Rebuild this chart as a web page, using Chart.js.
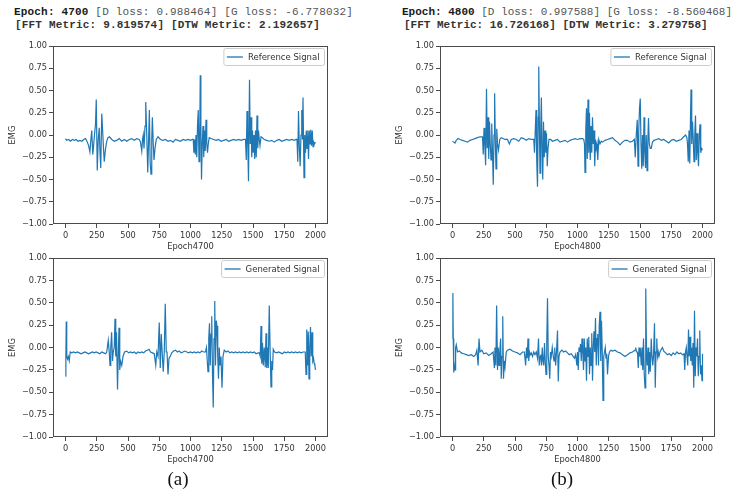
<!DOCTYPE html>
<html>
<head>
<meta charset="utf-8">
<script src="https://cdn.jsdelivr.net/npm/chart.js@4.4.1/dist/chart.umd.min.js"></script>
<style>
  html, body { margin: 0; padding: 0; background: #fff; }
  #wrap { position: relative; width: 735px; height: 496px; overflow: hidden; background: #fff; }
  canvas { position: absolute; }
  .hdr { position: absolute; font-family: "Liberation Mono", "DejaVu Sans Mono", monospace; font-size: 11px; line-height: 12.5px; color: #555; white-space: pre; }
  .hdr b { color: #1a1a1a; }
  .hdr .l2 { font-weight: bold; color: #333; }
  .hdr.wide { letter-spacing: 0.18px; }
  .cap { position: absolute; font-family: "Liberation Serif", serif; font-size: 19px; color: #111; transform: translate(-50%, -50%); white-space: nowrap; }
</style>
</head>
<body>
<div id="wrap">
  <div class="hdr wide" style="left:14px; top:6px;"><b>Epoch: 4700</b> [D loss: 0.988464] [G loss: -6.778032]</div>
  <div class="hdr wide" style="left:15px; top:18.5px;"><span class="l2">[FFT Metric: 9.819574] [DTW Metric: 2.192657]</span></div>
  <div class="hdr" style="left:402px; top:6px;"><b>Epoch: 4800</b> [D loss: 0.997588] [G loss: -8.560468]</div>
  <div class="hdr" style="left:404px; top:18.5px;"><span class="l2">[FFT Metric: 16.726168] [DTW Metric: 3.279758]</span></div>

  <canvas id="c1" width="340" height="218" style="left:0px; top:38px; width:340px; height:218px;"></canvas>
  <canvas id="c2" width="340" height="218" style="left:387px; top:38px; width:340px; height:218px;"></canvas>
  <canvas id="c3" width="340" height="219" style="left:0px; top:250px; width:340px; height:219px;"></canvas>
  <canvas id="c4" width="340" height="219" style="left:387px; top:250px; width:340px; height:219px;"></canvas>

  <div class="cap" style="left:178px; top:479px;">(a)</div>
  <div class="cap" style="left:562px; top:479px;">(b)</div>
</div>
<script>
// ---------------- data ----------------
const xTickValues = [0, 250, 500, 750, 1000, 1250, 1500, 1750, 2000];
const xTickLabels = ['0', '250', '500', '750', '1000', '1250', '1500', '1750', '2000'];
const yTickValues = [1, 0.75, 0.5, 0.25, 0, -0.25, -0.5, -0.75, -1];
const yTickLabels = ['1.00', '0.75', '0.50', '0.25', '0.00', '\u22120.25', '\u22120.50', '\u22120.75', '\u22121.00'];
const seriesLabels = ['Reference Signal', 'Generated Signal'];
const axisTitles = ['Epoch4700', 'Epoch4800', 'EMG'];

// [sample, EMG]
const refSignal4700 = [[0,-0.04],[10,-0.06],[25,-0.05],[40,-0.07],[55,-0.05],[70,-0.06],[85,-0.05],[100,-0.07],[115,-0.06],[130,-0.07],[145,-0.05],[160,-0.04],[175,-0.08],[185,-0.12],[195,-0.19],[203,-0.05],[210,0.05],[218,-0.22],[226,-0.1],[232,0.0],[240,0.12],[246,0.40],[254,-0.40],[262,-0.05],[270,0.08],[276,-0.2],[282,-0.37],[290,0.24],[297,0.05],[304,-0.15],[310,-0.30],[318,-0.18],[328,-0.08],[340,-0.03],[352,-0.02],[370,-0.05],[390,-0.07],[410,-0.06],[430,-0.04],[450,-0.07],[470,-0.05],[490,-0.07],[510,-0.05],[530,-0.04],[550,-0.06],[570,-0.04],[590,-0.05],[600,-0.08],[610,-0.18],[616,-0.05],[622,0.0],[628,-0.15],[636,0.1],[642,0.37],[650,0.0],[658,-0.42],[664,-0.1],[671,0.28],[677,-0.3],[684,-0.44],[690,-0.05],[695,0.2],[702,-0.1],[708,-0.28],[716,-0.15],[726,-0.05],[740,-0.02],[760,-0.05],[780,-0.06],[800,-0.05],[820,-0.07],[840,-0.06],[860,-0.08],[880,-0.05],[900,-0.06],[920,-0.07],[940,-0.05],[960,-0.06],[980,-0.05],[1000,-0.06],[1015,-0.05],[1022,-0.05],[1027,-0.2],[1033,-0.05],[1038,-0.22],[1044,0.0],[1050,-0.25],[1056,0.1],[1062,0.28],[1068,-0.3],[1074,0.0],[1078,0.67],[1083,0.1],[1088,-0.5],[1094,-0.1],[1100,0.1],[1106,-0.25],[1112,0.05],[1118,-0.18],[1124,0.17],[1130,-0.1],[1136,-0.2],[1142,-0.1],[1150,-0.03],[1165,-0.04],[1185,-0.05],[1205,-0.06],[1225,-0.05],[1245,-0.07],[1265,-0.06],[1285,-0.05],[1305,-0.07],[1325,-0.06],[1345,-0.05],[1365,-0.06],[1385,-0.05],[1405,-0.06],[1425,-0.05],[1440,-0.05],[1446,-0.28],[1452,0.27],[1458,-0.1],[1464,-0.52],[1472,0.62],[1478,-0.1],[1484,0.2],[1490,-0.25],[1496,0.05],[1502,-0.2],[1508,0.0],[1514,-0.27],[1520,0.05],[1526,-0.25],[1532,0.22],[1538,-0.15],[1544,0.05],[1550,-0.05],[1556,-0.12],[1564,-0.02],[1575,-0.03],[1590,-0.05],[1610,-0.06],[1630,-0.07],[1650,-0.06],[1670,-0.08],[1690,-0.06],[1710,-0.05],[1730,-0.07],[1750,-0.06],[1770,-0.05],[1790,-0.06],[1810,-0.05],[1830,-0.06],[1845,-0.05],[1852,-0.05],[1858,-0.3],[1864,0.27],[1870,-0.1],[1877,-0.35],[1884,0.0],[1890,0.28],[1896,-0.05],[1900,0.42],[1908,-0.48],[1914,0.0],[1920,-0.2],[1926,0.05],[1932,-0.15],[1938,0.05],[1944,-0.27],[1950,0.05],[1956,-0.1],[1962,0.06],[1968,-0.12],[1974,0.05],[1980,-0.13],[1986,-0.08],[1992,-0.1],[1999,-0.08]];

const genSignal4700 = [[0,-0.32],[3,-0.1],[6,0.29],[10,-0.1],[16,-0.13],[22,-0.1],[30,-0.15],[38,-0.05],[50,-0.06],[65,-0.05],[80,-0.06],[95,-0.05],[110,-0.06],[125,-0.07],[140,-0.06],[155,-0.05],[170,-0.06],[185,-0.07],[200,-0.06],[215,-0.05],[230,-0.06],[245,-0.05],[260,-0.06],[275,-0.07],[290,-0.05],[305,-0.06],[320,-0.07],[330,-0.05],[342,0.08],[350,-0.05],[356,-0.2],[362,0.0],[369,0.17],[376,-0.15],[382,-0.05],[390,0.0],[396,0.32],[402,-0.1],[408,0.17],[416,-0.47],[422,-0.1],[428,0.22],[434,-0.25],[440,-0.15],[450,-0.2],[460,-0.1],[472,-0.05],[490,-0.04],[505,-0.06],[520,-0.05],[535,-0.06],[550,-0.05],[565,-0.07],[580,-0.05],[595,-0.06],[610,-0.05],[625,-0.06],[640,-0.04],[655,-0.03],[668,-0.02],[680,-0.05],[695,-0.06],[710,-0.07],[722,-0.2],[730,-0.05],[740,-0.1],[750,0.28],[758,-0.23],[766,0.15],[775,-0.1],[782,-0.27],[790,-0.05],[798,0.49],[806,-0.05],[812,-0.05],[820,-0.3],[828,-0.12],[838,-0.1],[850,-0.06],[865,-0.04],[880,-0.03],[895,-0.05],[910,-0.04],[925,-0.06],[940,-0.05],[955,-0.04],[970,-0.05],[985,-0.06],[1000,-0.05],[1015,-0.06],[1030,-0.05],[1045,-0.06],[1060,-0.05],[1075,-0.06],[1090,-0.04],[1105,-0.05],[1120,-0.05],[1128,0.0],[1134,-0.15],[1140,-0.27],[1146,0.1],[1152,0.27],[1158,-0.2],[1164,0.15],[1170,0.35],[1176,-0.3],[1182,-0.67],[1188,0.1],[1194,0.52],[1200,-0.2],[1206,0.3],[1212,0.24],[1218,-0.1],[1224,-0.35],[1230,0.0],[1236,-0.2],[1244,-0.1],[1252,-0.45],[1260,-0.1],[1270,-0.03],[1285,-0.05],[1300,-0.04],[1315,-0.06],[1330,-0.05],[1345,-0.06],[1360,-0.05],[1375,-0.06],[1390,-0.05],[1405,-0.06],[1420,-0.05],[1435,-0.06],[1450,-0.05],[1465,-0.06],[1480,-0.05],[1495,-0.06],[1510,-0.05],[1525,-0.07],[1540,-0.06],[1550,-0.06],[1558,-0.1],[1564,0.24],[1570,-0.18],[1576,0.05],[1582,-0.2],[1590,0.0],[1598,-0.22],[1604,0.16],[1610,-0.23],[1616,0.0],[1622,-0.23],[1630,0.47],[1638,-0.1],[1644,-0.44],[1650,-0.15],[1656,-0.25],[1662,-0.02],[1672,-0.05],[1690,-0.06],[1705,-0.05],[1720,-0.06],[1735,-0.07],[1750,-0.05],[1765,-0.06],[1780,-0.05],[1795,-0.06],[1810,-0.05],[1825,-0.06],[1840,-0.05],[1855,-0.06],[1870,-0.05],[1885,-0.06],[1900,-0.05],[1910,-0.05],[1918,-0.05],[1924,-0.3],[1930,0.2],[1936,-0.2],[1942,0.18],[1948,-0.35],[1954,0.0],[1960,0.23],[1966,-0.1],[1972,0.17],[1978,-0.15],[1984,-0.12],[1990,-0.18],[1995,-0.2],[2000,-0.25]];

const refSignal4800 = [[0,-0.07],[10,-0.08],[20,-0.09],[30,-0.06],[45,-0.04],[60,-0.05],[80,-0.06],[100,-0.07],[120,-0.08],[140,-0.06],[160,-0.05],[180,-0.04],[200,-0.03],[220,-0.02],[240,-0.02],[246,-0.22],[252,0.08],[258,-0.1],[265,-0.34],[272,0.52],[278,-0.15],[284,0.2],[290,-0.27],[296,0.15],[302,-0.1],[308,-0.28],[314,0.13],[320,-0.2],[326,-0.56],[332,0.0],[337,0.47],[343,-0.1],[348,-0.38],[354,0.07],[360,-0.1],[368,-0.17],[378,-0.05],[390,-0.03],[405,-0.04],[420,-0.05],[440,-0.05],[455,-0.1],[470,-0.05],[490,-0.04],[510,-0.05],[530,-0.07],[550,-0.03],[570,-0.04],[590,-0.06],[610,-0.04],[630,-0.05],[650,-0.05],[656,-0.2],[662,0.05],[668,0.28],[674,-0.3],[680,-0.58],[686,0.2],[690,0.77],[696,0.0],[700,-0.43],[706,0.1],[711,0.42],[716,-0.1],[722,-0.5],[728,0.15],[734,-0.25],[740,0.05],[746,-0.2],[752,0.02],[758,-0.35],[764,-0.15],[772,-0.05],[785,-0.05],[800,-0.07],[820,-0.06],[840,-0.05],[860,-0.08],[880,-0.07],[900,-0.06],[920,-0.08],[940,-0.06],[960,-0.05],[980,-0.04],[1000,-0.05],[1020,-0.04],[1040,-0.04],[1050,-0.05],[1056,-0.1],[1060,-0.42],[1066,0.05],[1072,0.3],[1078,-0.27],[1084,0.4],[1090,-0.2],[1096,0.25],[1102,-0.28],[1108,0.1],[1114,-0.2],[1120,0.2],[1126,-0.1],[1132,0.05],[1138,-0.35],[1144,-0.05],[1150,-0.15],[1156,-0.1],[1162,-0.28],[1170,-0.05],[1180,-0.1],[1190,-0.07],[1200,-0.08],[1220,-0.06],[1240,-0.05],[1260,-0.04],[1280,-0.03],[1300,-0.06],[1320,-0.08],[1340,-0.11],[1360,-0.08],[1380,-0.06],[1400,-0.06],[1420,-0.08],[1440,-0.07],[1455,-0.05],[1462,-0.25],[1470,0.0],[1478,0.17],[1484,-0.35],[1490,0.05],[1496,0.3],[1502,0.41],[1508,-0.1],[1514,-0.38],[1520,0.0],[1526,-0.35],[1532,0.2],[1538,-0.2],[1544,-0.37],[1550,0.0],[1556,-0.4],[1562,-0.1],[1568,0.19],[1574,-0.1],[1582,-0.15],[1590,-0.15],[1600,-0.08],[1612,-0.06],[1630,-0.05],[1650,-0.04],[1670,-0.06],[1690,-0.05],[1710,-0.07],[1730,-0.09],[1750,-0.06],[1770,-0.05],[1790,-0.07],[1810,-0.06],[1830,-0.05],[1850,-0.02],[1865,0.0],[1875,-0.03],[1880,-0.1],[1886,-0.3],[1892,0.05],[1898,-0.32],[1904,0.2],[1908,0.51],[1914,-0.1],[1920,0.15],[1926,-0.05],[1932,-0.3],[1938,0.0],[1944,0.22],[1950,-0.28],[1956,0.02],[1962,-0.2],[1968,-0.35],[1974,0.0],[1980,0.12],[1986,-0.2],[1992,-0.15],[2000,-0.17]];

const genSignal4800 = [[0,0.1],[3,0.61],[6,0.1],[10,-0.28],[15,-0.2],[20,-0.25],[25,0.0],[30,0.03],[40,-0.05],[55,-0.04],[70,-0.06],[90,-0.07],[110,-0.08],[130,-0.09],[150,-0.08],[170,-0.1],[185,-0.08],[195,-0.03],[205,-0.2],[212,0.1],[220,-0.05],[235,-0.03],[250,-0.07],[270,-0.06],[290,-0.09],[310,-0.07],[325,-0.05],[335,-0.23],[340,0.0],[347,-0.2],[353,0.47],[360,-0.25],[366,0.0],[372,-0.2],[378,-0.05],[385,0.1],[390,-0.35],[396,-0.1],[402,0.35],[408,-0.35],[414,-0.15],[420,-0.22],[430,-0.05],[440,-0.03],[460,-0.02],[480,-0.04],[500,-0.05],[520,-0.06],[540,-0.08],[560,-0.05],[575,-0.05],[585,-0.2],[592,0.0],[598,-0.12],[604,0.1],[610,-0.15],[616,-0.05],[622,-0.08],[630,-0.06],[640,-0.1],[650,-0.05],[660,-0.08],[670,-0.05],[680,-0.12],[688,0.1],[694,-0.2],[700,-0.1],[706,-0.08],[712,-0.2],[718,0.0],[724,-0.15],[730,-0.2],[736,0.05],[742,-0.15],[748,-0.3],[754,0.05],[760,0.55],[766,-0.1],[772,-0.2],[778,-0.35],[784,-0.05],[790,-0.1],[798,0.0],[806,-0.1],[812,-0.15],[818,0.0],[825,-0.2],[832,-0.05],[840,0.19],[846,-0.38],[852,-0.1],[860,-0.05],[875,-0.03],[890,-0.05],[905,-0.04],[920,-0.06],[935,-0.08],[950,-0.07],[965,-0.1],[975,-0.12],[985,-0.08],[995,-0.2],[1000,-0.05],[1006,-0.25],[1012,0.0],[1018,-0.05],[1024,0.04],[1030,-0.15],[1036,0.1],[1042,-0.05],[1048,-0.25],[1054,0.1],[1060,-0.15],[1066,0.0],[1072,-0.37],[1078,0.1],[1084,-0.1],[1090,0.12],[1096,-0.3],[1102,0.0],[1108,-0.2],[1114,0.16],[1120,-0.37],[1126,0.0],[1132,0.18],[1138,-0.05],[1144,0.33],[1150,-0.2],[1156,0.1],[1162,0.15],[1168,-0.2],[1174,0.25],[1180,0.4],[1186,-0.15],[1192,0.3],[1198,-0.05],[1204,-0.59],[1210,-0.1],[1216,-0.05],[1222,0.0],[1228,-0.12],[1234,-0.07],[1240,-0.3],[1248,-0.1],[1256,-0.05],[1266,-0.03],[1280,-0.04],[1300,-0.03],[1320,-0.05],[1340,-0.06],[1360,-0.08],[1380,-0.1],[1400,-0.08],[1420,-0.06],[1440,-0.05],[1460,-0.03],[1466,0.0],[1472,-0.05],[1480,-0.05],[1486,-0.23],[1492,0.0],[1498,-0.1],[1504,-0.05],[1510,-0.2],[1516,0.0],[1522,-0.25],[1528,0.1],[1534,-0.3],[1540,-0.45],[1546,0.66],[1552,-0.05],[1558,-0.2],[1564,0.0],[1570,-0.3],[1576,-0.05],[1582,-0.27],[1590,0.1],[1596,-0.1],[1602,-0.2],[1608,-0.1],[1616,0.27],[1622,-0.45],[1628,-0.05],[1634,0.1],[1640,-0.1],[1646,-0.05],[1652,-0.1],[1660,-0.05],[1670,-0.02],[1680,0.0],[1690,-0.04],[1705,-0.06],[1720,-0.08],[1735,-0.07],[1750,-0.09],[1765,-0.06],[1780,-0.08],[1795,-0.05],[1810,-0.07],[1825,-0.06],[1840,-0.08],[1852,-0.07],[1858,-0.25],[1864,-0.05],[1870,0.0],[1876,-0.1],[1882,-0.2],[1888,0.2],[1894,-0.1],[1900,0.12],[1906,-0.15],[1912,0.0],[1918,-0.2],[1924,0.05],[1930,-0.45],[1936,0.41],[1942,-0.32],[1948,0.0],[1954,-0.1],[1960,0.1],[1966,-0.32],[1972,-0.1],[1978,0.19],[1984,-0.3],[1990,-0.2],[1996,-0.37],[2000,-0.07]];

// ---------------- style ----------------
const LINE = '#1f77b4';
const SPINE = '#4a4a4a';
const TEXT = '#333333';
const FONT = '"DejaVu Sans", sans-serif';

const framePlugin = {
  id: 'frameAndLegend',
  afterDraw(chart) {
    const { ctx, chartArea: a } = chart;
    ctx.save();
    ctx.strokeStyle = SPINE;
    ctx.lineWidth = 1;
    const l = Math.round(a.left) + 0.5, t = Math.round(a.top) + 0.5;
    const r = Math.round(a.right) - 0.5, b = Math.round(a.bottom) - 0.5;
    ctx.strokeRect(l, t, r - l, b - t);
    const ds = chart.data.datasets[0];
    ctx.font = '8.5px ' + FONT;
    const tw = ctx.measureText(ds.label).width;
    const w = 3 + 16 + 5 + tw + 5, h = 17;
    const x = r - 3 - w, y = t + 2;
    const rad = 2;
    ctx.beginPath();
    ctx.moveTo(x + rad, y);
    ctx.arcTo(x + w, y, x + w, y + h, rad);
    ctx.arcTo(x + w, y + h, x, y + h, rad);
    ctx.arcTo(x, y + h, x, y, rad);
    ctx.arcTo(x, y, x + w, y, rad);
    ctx.closePath();
    ctx.fillStyle = 'rgba(255,255,255,0.85)';
    ctx.fill();
    ctx.strokeStyle = '#cccccc';
    ctx.stroke();
    ctx.strokeStyle = ds.borderColor;
    ctx.lineWidth = 1.3;
    ctx.beginPath();
    ctx.moveTo(x + 3, y + h / 2);
    ctx.lineTo(x + 19, y + h / 2);
    ctx.stroke();
    ctx.fillStyle = TEXT;
    ctx.textBaseline = 'middle';
    ctx.textAlign = 'left';
    ctx.fillText(ds.label, x + 24, y + h / 2 + 0.5);
    ctx.restore();
  }
};

function makeChart(id, series, label, xTitle) {
  return new Chart(document.getElementById(id), {
    type: 'line',
    data: {
      datasets: [{
        label: label,
        data: series.map(([x, y]) => ({ x, y })),
        borderColor: LINE,
        backgroundColor: LINE,
        borderWidth: 1.2,
        pointRadius: 0,
        tension: 0,
        fill: false
      }]
    },
    options: {
      responsive: false,
      maintainAspectRatio: false,
      animation: false,
      events: [],
      layout: { padding: { top: 8, right: 12, left: 0, bottom: 0 } },
      plugins: { legend: { display: false }, tooltip: { enabled: false }, title: { display: false } },
      scales: {
        x: {
          type: 'linear',
          min: -100,
          max: 2100,
          afterBuildTicks: (s) => { s.ticks = xTickValues.map(v => ({ value: v })); },
          afterFit: (s) => { s.height = 32; },
          grid: { drawOnChartArea: false, drawTicks: true, tickLength: 4, color: SPINE, tickColor: SPINE, tickWidth: 1 },
          border: { display: false },
          ticks: {
            padding: 3,
            color: TEXT,
            font: { family: FONT, size: 8.2 },
            maxRotation: 0,
            autoSkip: false,
            callback: (v) => { const i = xTickValues.indexOf(v); return i >= 0 ? xTickLabels[i] : ''; }
          },
          title: { display: true, text: xTitle, color: TEXT, font: { family: FONT, size: 8.3 }, padding: { top: 0, bottom: 4 } }
        },
        y: {
          type: 'linear',
          min: -1,
          max: 1,
          afterBuildTicks: (s) => { s.ticks = yTickValues.map(v => ({ value: v })); },
          afterFit: (s) => { s.width = 53; },
          grid: { drawOnChartArea: false, drawTicks: true, tickLength: 4, color: SPINE, tickColor: SPINE, tickWidth: 1 },
          border: { display: false },
          ticks: {
            padding: 2,
            color: TEXT,
            font: { family: FONT, size: 8.2 },
            autoSkip: false,
            callback: (v) => { const i = yTickValues.indexOf(v); return i >= 0 ? yTickLabels[i] : ''; }
          },
          title: { display: true, text: axisTitles[2], color: TEXT, font: { family: FONT, size: 8.3 }, padding: { top: 8, bottom: 0 } }
        }
      }
    },
    plugins: [framePlugin]
  });
}

makeChart('c1', refSignal4700, seriesLabels[0], axisTitles[0]);
makeChart('c2', refSignal4800, seriesLabels[0], axisTitles[1]);
makeChart('c3', genSignal4700, seriesLabels[1], axisTitles[0]);
makeChart('c4', genSignal4800, seriesLabels[1], axisTitles[1]);
</script>
</body>
</html>
